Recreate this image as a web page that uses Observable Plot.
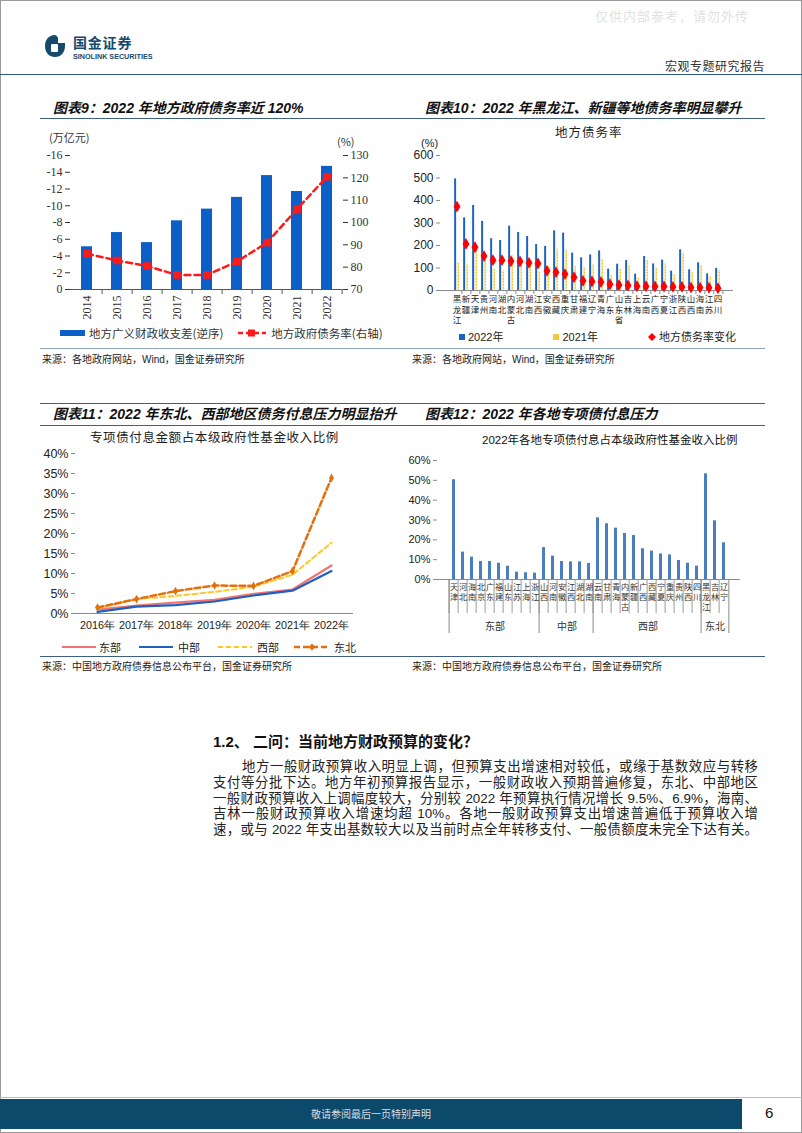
<!DOCTYPE html>
<html><head><meta charset="utf-8">
<script src="https://cdn.jsdelivr.net/npm/d3@7"></script>
<script src="https://cdn.jsdelivr.net/npm/@observablehq/plot@0.6"></script>
<style>
html,body{margin:0;padding:0;background:#fff;}
#page{position:relative;width:802px;height:1133px;overflow:hidden;font-family:"Noto Sans CJK SC",sans-serif;color:#222;}
.a{position:absolute;white-space:nowrap;}
.hl{position:absolute;height:0;border-top:1.5px solid #3d5f80;}
.title{font-size:14px;font-style:italic;font-weight:bold;line-height:18px;color:#111;font-family:"Liberation Sans","Noto Sans CJK SC",sans-serif;}
.src{font-size:10px;line-height:14px;color:#222;font-family:"Liberation Sans","Noto Sans CJK SC",sans-serif;}
.lg{font-size:11px;line-height:14px;display:flex;align-items:center;}
.para div{height:15.8px;line-height:15.8px;text-align:justify;text-align-last:justify;white-space:nowrap;}
</style></head><body><div id="page"></div>
<script>
// ---------------- data ----------------
// 图表9
const years9 = ["2014","2015","2016","2017","2018","2019","2020","2021","2022"];
const fiscalGap9 = [-5.1,-6.8,-5.6,-8.2,-9.6,-11.0,-13.6,-11.7,-14.7];
const debtRate9 = [86,83,80.5,76.5,76.5,82.5,91,106,120.5];
const leftTicks9 = [-16,-14,-12,-10,-8,-6,-4,-2,0];
const rightTicks9 = [70,80,90,100,110,120,130];
// 图表10
const provinces10 = ["黑龙江","新疆","天津","贵州","河南","湖北","内蒙古","河北","湖南","江西","安徽","西藏","重庆","甘肃","福建","辽宁","青海","广东","山东省","吉林","上海","云南","广西","宁夏","浙江","陕西","山西","海南","江苏","四川"];
const rate2022 = [496,323,378,307,230,222,286,258,240,204,196,265,255,166,145,158,176,95,117,133,73,151,118,135,86,181,92,123,74,98];
const rate2021 = [123,116,186,154,96,88,155,129,117,84,108,184,181,107,102,117,138,68,93,112,55,133,101,118,70,166,79,111,62,89];
const change10 = [373,207,192,153,135,135,130,129,123,120,87,81,73,59,43,40,38,28,24,22,19,19,18,18,16,16,13,13,12,10];
const ticks10 = [0,100,200,300,400,500,600];
// 图表11
const years11 = ["2016年","2017年","2018年","2019年","2020年","2021年","2022年"];
const regions11 = ["东部","中部","西部","东北"];
const east11 = [0.010,0.020,0.027,0.034,0.049,0.060,0.120];
const central11 = [0.004,0.017,0.021,0.030,0.045,0.057,0.106];
const west11 = [0.013,0.036,0.044,0.054,0.067,0.097,0.177];
const northeast11 = [0.015,0.036,0.056,0.070,0.069,0.106,0.339];
const ticks11 = [0,0.05,0.10,0.15,0.20,0.25,0.30,0.35,0.40];
// 图表12
const provinces12 = ["天津","河北","海南","北京","广东","福建","山东","江苏","上海","浙江","山西","河南","安徽","江西","湖北","湖南","云南","甘肃","青海","内蒙古","新疆","广西","西藏","宁夏","重庆","贵州","陕西","四川","黑龙江","吉林","辽宁"];
const values12 = [0.503,0.138,0.113,0.091,0.091,0.082,0.067,0.037,0.034,0.032,0.161,0.118,0.091,0.089,0.089,0.081,0.311,0.281,0.259,0.232,0.222,0.155,0.143,0.129,0.124,0.096,0.082,0.067,0.533,0.296,0.185];
const groups12 = ["东部","中部","西部","东北"];
const groupSizes12 = [10,6,12,3];
const ticks12 = [0,0.1,0.2,0.3,0.4,0.5,0.6];

// ---------------- helpers ----------------
const page = document.getElementById("page");
function add(html){ const t=document.createElement("div"); t.innerHTML=html.trim(); const el=t.firstChild; page.appendChild(el); return el; }
function place(el,left,top){ el.style.position="absolute"; el.style.left=left+"px"; el.style.top=top+"px"; page.appendChild(el); return el; }

// ---------------- page furniture ----------------
add(`<div class="a" style="left:0;top:0;width:800px;height:1131px;border:1px solid #9a9a9a;"></div>`);
add(`<div class="a" style="left:595px;top:8px;font-size:13px;line-height:16px;color:#e2e2e2;letter-spacing:1px;">仅供内部参考，请勿外传</div>`);
add(`<div class="a" style="left:44px;top:34px;"><svg width="22" height="24" viewBox="0 0 22 24"><path d="M11 1 C4.5 1 1 6 1 12 C1 18.5 5 23 11 23 C17 23 21 18.5 21 12 L21 9 L14 9 L14 4 C13 2 12 1 11 1 Z" fill="#164a6b"/><rect x="7" y="10" width="7" height="8" rx="1" fill="#fff"/></svg></div>`);
add(`<div class="a" style="left:73px;top:35px;font-size:14px;line-height:14px;font-weight:bold;color:#164a6b;letter-spacing:0.8px;">国金证券</div>`);
add(`<div class="a" style="left:73px;top:53px;font-size:7.2px;line-height:8px;font-weight:bold;color:#164a6b;font-family:'Liberation Sans',sans-serif;">SINOLINK SECURITIES</div>`);
add(`<div class="a" style="left:665px;top:58px;font-size:12px;line-height:16px;color:#333;letter-spacing:0.5px;">宏观专题研究报告</div>`);
add(`<div class="hl" style="left:0;top:74px;width:802px;border-top:1.5px solid #2f5878;"></div>`);

// titles row 1
add(`<div class="a title" style="left:53px;top:99px;">图表9：2022 年地方政府债务率近 120%</div>`);
add(`<div class="a title" style="left:425px;top:99px;">图表10：2022 年黑龙江、新疆等地债务率明显攀升</div>`);
add(`<div class="hl" style="left:40px;top:118px;width:725px;"></div>`);
add(`<div class="hl" style="left:40px;top:348px;width:725px;border-top:1px solid #8fa6bd;"></div>`);
add(`<div class="a src" style="left:42px;top:353px;">来源：各地政府网站，Wind，国金证券研究所</div>`);
add(`<div class="a src" style="left:412px;top:353px;">来源：各地政府网站，Wind，国金证券研究所</div>`);

// titles row 2
add(`<div class="hl" style="left:40px;top:403px;width:725px;"></div>`);
add(`<div class="a title" style="left:53px;top:405px;">图表11：2022 年东北、西部地区债务付息压力明显抬升</div>`);
add(`<div class="a title" style="left:425px;top:405px;">图表12：2022 年各地专项债付息压力</div>`);
add(`<div class="hl" style="left:40px;top:425px;width:725px;"></div>`);
add(`<div class="hl" style="left:40px;top:656px;width:725px;"></div>`);
add(`<div class="a src" style="left:42px;top:660px;">来源：中国地方政府债券信息公布平台，国金证券研究所</div>`);
add(`<div class="a src" style="left:412px;top:660px;">来源：中国地方政府债券信息公布平台，国金证券研究所</div>`);

// section text
add(`<div class="a" style="left:213px;top:732px;font-size:15px;line-height:20px;font-weight:bold;color:#111;font-family:'Liberation Sans','Noto Sans CJK SC',sans-serif;">1.2、 二问：当前地方财政预算的变化？</div>`);
const paraLines = [
 "地方一般财政预算收入明显上调，但预算支出增速相对较低，或缘于基数效应与转移",
 "支付等分批下达。地方年初预算报告显示，一般财政收入预期普遍修复，东北、中部地区",
 "一般财政预算收入上调幅度较大，分别较 2022 年预算执行情况增长 9.5%、6.9%，海南、",
 "吉林一般财政预算收入增速均超 10%。各地一般财政预算支出增速普遍低于预算收入增",
 "速，或与 2022 年支出基数较大以及当前时点全年转移支付、一般债额度未完全下达有关。"
];
add(`<div class="a para" style="left:213px;top:759px;width:545px;font-size:13.4px;color:#222;font-family:'Liberation Sans','Noto Sans CJK SC',sans-serif;">${paraLines.map((l,i)=>`<div style="${i===0?'padding-left:29px;':''}">${l}</div>`).join("")}</div>`);

// footer
add(`<div class="hl" style="left:0;top:1097px;width:802px;border-top:1px solid #9cc3dc;"></div>`);
add(`<div class="a" style="left:0;top:1099px;width:742px;height:30px;background:#0c4a6c;"></div>`);
add(`<div class="a" style="left:0;top:1107px;width:742px;text-align:center;font-size:10px;line-height:14px;color:#d8dee4;">敬请参阅最后一页特别声明</div>`);
add(`<div class="a" style="left:765px;top:1104px;font-size:15px;line-height:18px;color:#111;font-family:'Liberation Sans',sans-serif;">6</div>`);

// ---------------- 图表9 ----------------
{
 const W=360,H=200,ml=30,mr=58,mt=30,mb=36;
 const step=(W-ml-mr)/years9.length, plotH=H-mt-mb;
 const toLeft = v => (v-70)/60*-16;
 const rows = years9.map((y,i)=>({year:y,gap:fiscalGap9[i],rate:debtRate9[i]}));
 const svg = Plot.plot({
  width:W,height:H,marginLeft:ml,marginRight:mr,marginTop:mt,marginBottom:mb,
  style:{background:"transparent",fontFamily:"'Liberation Serif',serif",fontSize:"12px",color:"#333",overflow:"visible"},
  x:{domain:years9,paddingInner:0.65,paddingOuter:0.325,axis:null},
  y:{domain:[0,-16],axis:null},
  marks:[
   Plot.barY(rows,{x:"year",y:"gap",fill:"#0b5fc6"}),
   Plot.ruleY([0],{stroke:"#555"}),
   Plot.ruleX(years9,{x:d=>d,dx:step/2,insetTop:plotH,insetBottom:-5,stroke:"#555"}),
   Plot.axisY(leftTicks9,{anchor:"left",label:null,tickSize:5,tickPadding:3,line:true,tickFormat:d=>String(d),fontSize:12}),
   Plot.axisY(rightTicks9.map(toLeft),{anchor:"right",label:null,tickSize:5,tickPadding:3,line:true,tickFormat:d=>String(Math.round(70+d/-16*60)),fontSize:12}),
   Plot.axisX({label:null,tickRotate:-90,tickSize:0,tickPadding:6,fontSize:12}),
   Plot.line(rows,{x:"year",y:d=>toLeft(d.rate),stroke:"#ff1a1a",strokeWidth:2.5,strokeDasharray:"6,4"}),
   Plot.dot(rows,{x:"year",y:d=>toLeft(d.rate),symbol:"square",r:4.3,fill:"#ff1a1a"})
  ]
 });
 place(svg,40,125);
 add(`<div class="a" style="left:49px;top:130px;font-size:11px;line-height:14px;color:#333;">(万亿元)</div>`);
 add(`<div class="a" style="left:337px;top:134px;font-size:11px;line-height:14px;color:#333;">(%)</div>`);
 add(`<div class="a lg" style="left:60px;top:326px;color:#333;font-size:11.5px;">
   <svg width="26" height="8"><rect x="0" y="1" width="25" height="6" fill="#0b5fc6"/></svg>
   <span style="margin-left:3px;">地方广义财政收支差(逆序)</span>
   <svg width="30" height="10" style="margin-left:15px;"><line x1="0" y1="5" x2="28" y2="5" stroke="#ff1a1a" stroke-width="2.5" stroke-dasharray="5,3"/><rect x="10" y="1.5" width="7" height="7" fill="#ff1a1a"/></svg>
   <span style="margin-left:3px;">地方政府债务率(右轴)</span></div>`);
}

// ---------------- 图表10 ----------------
{
 const W=360,H=200,ml=30,mr=37,mt=30,mb=35;
 const step=(W-ml-mr)/provinces10.length, plotH=H-mt-mb;
 const rows = provinces10.map((p,i)=>({p,a:rate2022[i],b:rate2021[i],c:change10[i]}));
 const svg = Plot.plot({
  width:W,height:H,marginLeft:ml,marginRight:mr,marginTop:mt,marginBottom:mb,
  style:{background:"transparent",fontFamily:"'Liberation Sans',sans-serif",fontSize:"12px",color:"#222",overflow:"visible"},
  x:{domain:provinces10,padding:0,axis:null},
  y:{domain:[0,600],axis:null},
  marks:[
   Plot.barY(rows,{x:"p",y:"b",fill:"url(#hatch10)",insetLeft:step*0.5,insetRight:step*0.22}),
   Plot.barY(rows,{x:"p",y:"a",fill:"#1b63c0",insetLeft:step*0.22,insetRight:step*0.5}),
   Plot.ruleY([0],{stroke:"#8a8a8a"}),
   Plot.ruleX(provinces10,{x:d=>d,dx:step/2,insetTop:plotH,insetBottom:-4,stroke:"#8a8a8a"}),
   Plot.axisY(ticks10,{anchor:"left",label:null,tickSize:4,tickPadding:3,line:true,stroke:"#8a8a8a",tickFormat:d=>String(d),fontSize:12}),
   Plot.dot(rows,{x:"p",y:"c",symbol:"diamond",r:3.6,fill:"#ff0000"}),
   Plot.text(provinces10,{x:d=>d,text:d=>d.split("").join("\n"),frameAnchor:"bottom",lineAnchor:"top",dy:4,lineHeight:1.25,fontSize:8.5,fontFamily:"'Noto Sans CJK SC',sans-serif",fill:"#222"})
  ]
 });
 d3.select(svg).insert("defs",":first-child").html(`<pattern id="hatch10" width="3" height="3" patternUnits="userSpaceOnUse"><rect width="3" height="3" fill="#ffe9a0"/><rect width="1.5" height="1.5" fill="#f1b400"/></pattern>`);
 place(svg,410,125);
 add(`<div class="a" style="left:555px;top:124px;font-size:12.5px;line-height:15px;color:#222;letter-spacing:1px;">地方债务率</div>`);
 add(`<div class="a" style="left:421px;top:136px;font-size:11px;line-height:14px;color:#222;font-family:'Liberation Sans',sans-serif;">(%)</div>`);
 add(`<div class="a lg" style="left:459px;top:330px;color:#222;font-family:'Liberation Sans','Noto Sans CJK SC',sans-serif;">
   <svg width="7" height="7"><rect width="6" height="6" fill="#1b63c0"/></svg><span style="margin-left:2px;">2022年</span>
   <svg width="7" height="7" style="margin-left:50px;"><rect width="6" height="6" fill="#f5c842"/></svg><span style="margin-left:2px;">2021年</span>
   <svg width="8" height="8" style="margin-left:50px;"><path d="M4 0 L8 4 L4 8 L0 4 Z" fill="#ff0000"/></svg><span style="margin-left:3px;">地方债务率变化</span></div>`);
}

// ---------------- 图表11 ----------------
{
 const W=360,H=195,ml=35,mr=47,mt=8,mb=27;
 const seriesVals = [east11,central11,west11,northeast11];
 const styles = [
  {stroke:"#f07474",strokeWidth:2.2},
  {stroke:"#1f5fbf",strokeWidth:2.2},
  {stroke:"#ffc727",strokeWidth:2,strokeDasharray:"5,3"},
  {stroke:"#e2700f",strokeWidth:2.5,strokeDasharray:"6,3"}
 ];
 const rows = regions11.flatMap((r,k)=>years11.map((y,i)=>({r,y,v:seriesVals[k][i]})));
 const svg = Plot.plot({
  width:W,height:H,marginLeft:ml,marginRight:mr,marginTop:mt,marginBottom:mb,
  style:{background:"transparent",fontFamily:"'Liberation Sans',sans-serif",fontSize:"12px",color:"#222",overflow:"visible"},
  x:{domain:years11,type:"point",padding:0.5,axis:null},
  y:{domain:[0,0.4],axis:null},
  marks:[
   Plot.ruleY([0],{stroke:"#8a8a8a"}),
   Plot.axisY(ticks11,{anchor:"left",label:null,tickSize:4,tickPadding:3,line:true,stroke:"#8a8a8a",tickFormat:d3.format(".0%"),fontSize:12.5}),
   Plot.axisX({label:null,tickSize:0,tickPadding:8,fontSize:10.8}),
   ...regions11.map((r,k)=>Plot.line(rows.filter(d=>d.r===r),{x:"y",y:"v",...styles[k]})),
   Plot.dot(rows.filter(d=>d.r===regions11[3]),{x:"y",y:"v",symbol:"diamond",r:2.6,fill:"#e2700f"})
  ]
 });
 place(svg,40,445);
 add(`<div class="a" style="left:90px;top:429px;font-size:12.5px;line-height:16px;color:#222;letter-spacing:0.6px;">专项债付息金额占本级政府性基金收入比例</div>`);
 add(`<div class="a lg" style="left:62px;top:640px;color:#222;font-size:11px;">
   <svg width="34" height="6"><line x1="0" y1="3" x2="34" y2="3" stroke="#f07474" stroke-width="2.2"/></svg><span style="margin-left:3px;">东部</span>
   <svg width="34" height="6" style="margin-left:18px;"><line x1="0" y1="3" x2="34" y2="3" stroke="#1f5fbf" stroke-width="2.2"/></svg><span style="margin-left:5px;">中部</span>
   <svg width="34" height="6" style="margin-left:18px;"><line x1="0" y1="3" x2="34" y2="3" stroke="#ffc727" stroke-width="2" stroke-dasharray="5,3"/></svg><span style="margin-left:5px;">西部</span>
   <svg width="36" height="8" style="margin-left:15px;"><line x1="0" y1="4" x2="36" y2="4" stroke="#e2700f" stroke-width="2.5" stroke-dasharray="6,3"/><path d="M18 0.5 L21.5 4 L18 7.5 L14.5 4 Z" fill="#e2700f"/></svg><span style="margin-left:4px;">东北</span></div>`);
}

// ---------------- 图表12 ----------------
{
 const W=360,H=195,ml=27,mr=30,mt=15,mb=61;
 const step=(W-ml-mr)/provinces12.length, plotH=H-mt-mb;
 const rows = provinces12.map((p,i)=>({p,v:values12[i]}));
 const starts = groupSizes12.map((s,k)=>d3.sum(groupSizes12.slice(0,k)));
 const groupMarks = groups12.map((g,k)=>{
  const mid = starts[k] + (groupSizes12[k]-1)/2;
  const idx = Math.floor(mid);
  return Plot.text([g],{x:()=>provinces12[idx],dx:(mid-idx)*step,frameAnchor:"bottom",lineAnchor:"middle",dy:47,fontSize:10,fontFamily:"'Noto Sans CJK SC',sans-serif",fill:"#333"});
 });
 const boundaryStarts = starts.map(s=>provinces12[s]);
 const svg = Plot.plot({
  width:W,height:H,marginLeft:ml,marginRight:mr,marginTop:mt,marginBottom:mb,
  style:{background:"transparent",fontFamily:"'Liberation Sans',sans-serif",fontSize:"11px",color:"#222",overflow:"visible"},
  x:{domain:provinces12,paddingInner:0.64,paddingOuter:0.32,axis:null},
  y:{domain:[0,0.6],axis:null},
  marks:[
   Plot.barY(rows,{x:"p",y:"v",fill:"#4a7ebf"}),
   Plot.ruleY([0],{stroke:"#8a8a8a"}),
   Plot.ruleX(provinces12,{x:d=>d,dx:-step/2,insetTop:plotH,insetBottom:-34,stroke:"#9a9a9a"}),
   Plot.ruleX(boundaryStarts,{x:d=>d,dx:-step/2,insetTop:plotH,insetBottom:-54,stroke:"#8a8a8a"}),
   Plot.ruleX([provinces12[provinces12.length-1]],{x:d=>d,dx:step/2,insetTop:plotH,insetBottom:-54,stroke:"#8a8a8a"}),
   Plot.axisY(ticks12,{anchor:"left",label:null,tickSize:4,tickPadding:3,line:true,stroke:"#8a8a8a",tickFormat:d3.format(".0%"),fontSize:11}),
   Plot.text(provinces12,{x:d=>d,text:d=>d.split("").join("\n"),frameAnchor:"bottom",lineAnchor:"top",dy:3,lineHeight:1.24,fontSize:8.2,fontFamily:"'Noto Sans CJK SC',sans-serif",fill:"#333"}),
   ...groupMarks
  ]
 });
 place(svg,410,445);
 add(`<div class="a" style="left:482px;top:433px;font-size:11.5px;line-height:15px;color:#111;font-family:'Liberation Sans','Noto Sans CJK SC',sans-serif;">2022年各地专项债付息占本级政府性基金收入比例</div>`);
}
</script></body></html>
